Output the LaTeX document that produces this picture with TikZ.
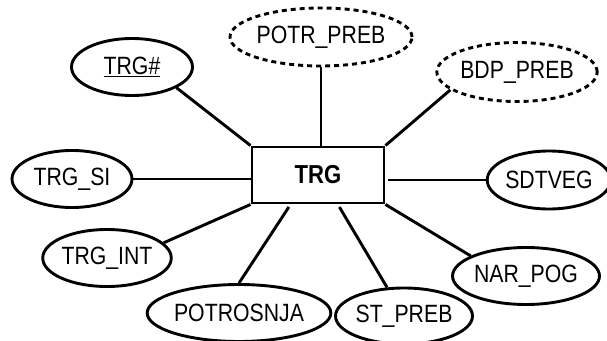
\documentclass[tikz,border=0pt]{standalone}
\usepackage{fontspec}
\setmainfont{Liberation Sans}[FakeStretch=0.85]
\usetikzlibrary{shapes.geometric}

\begin{document}
\begin{tikzpicture}[x=1pt,y=-1pt,line width=2.9pt,
    entity/.style={draw,rectangle,minimum width=132pt,minimum height=56pt,inner sep=0pt,font=\fontsize{26}{30}\selectfont\bfseries},
    attr/.style={draw,ellipse,inner sep=0pt,font=\fontsize{25}{29}\selectfont},
    derived/.style={attr,dash pattern=on 5pt off 4pt}]
      \useasboundingbox (0,0) rectangle (607,340);
      \node[entity] (trg) at (318,175) {TRG};
      \node[attr,minimum width=121pt,minimum height=57pt] (trgid) at (132,67) {\underline{TRG\#}};
      \node[derived,minimum width=157pt,minimum height=58pt] (potr) at (321,37) {POTR\_PREB};
      \node[derived,minimum width=141pt,minimum height=59pt] (bdp) at (517,72) {BDP\_PREB};
      \node[attr,minimum width=120pt,minimum height=57pt] (trgsi) at (72,179) {TRG\_SI};
      \node[attr,minimum width=121pt,minimum height=57pt] (trgint) at (107,258) {TRG\_INT};
      \node[attr,minimum width=172pt,minimum height=57pt] (potrosnja) at (239,313) {POTROSNJA};
      \node[attr,minimum width=122pt,minimum height=56pt] (stpreb) at (404,316) {ST\_PREB};
      \node[attr,minimum width=122pt,minimum height=57pt] (narpog) at (526,276) {NAR\_POG};
      \node[attr,minimum width=114pt,minimum height=58pt] (sdtveg) at (549,180) {SDTVEG};
      \draw (trgid.-25) -- (trg.north west);
      \draw (potr.south) -- (potr.south |- trg.north);
      \draw (bdp.195) -- (trg.north east);
      \draw (trgsi.east) -- (trgsi.east -| trg.west);
      \draw (trgint.15) -- (trg.south west);
      \draw[shorten >=3pt] (potrosnja.north) -- (trg.-133);
      \draw[shorten >=3pt] (stpreb) -- (trg.-56);
      \draw (narpog.160) -- (trg.south east);
      \draw[shorten >=3pt] (sdtveg.west) -- (sdtveg.west -| trg.east);
\end{tikzpicture}
\end{document}
